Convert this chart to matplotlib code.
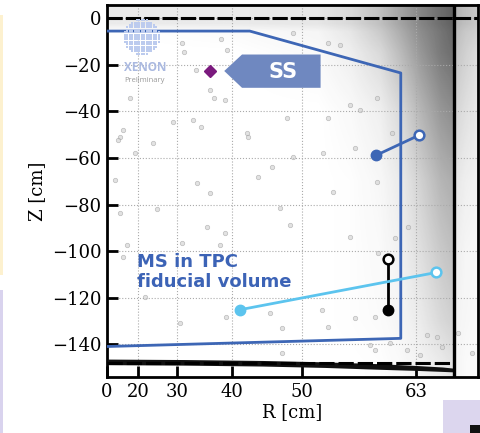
import numpy as np
import matplotlib
matplotlib.use("Agg")
import matplotlib.pyplot as plt
from matplotlib.colors import LinearSegmentedColormap
from matplotlib.image import NonUniformImage
from matplotlib.patches import Polygon, Rectangle

# --- data (R in cm, Z in cm) ---
r_ticks = [0, 20, 30, 40, 50, 63]
z_ticks = [0, -20, -40, -60, -80, -100, -120, -140]
r_wall = 66.7
z_gate = 0.0
z_cathode = -148.0

# fiducial volume outline
fv_r = [0, 42.8, 61.4, 61.4, 0]
fv_z = [-5.5, -5.5, -23.5, -137.5, -141.0]

# single scatter
ss_r = [36.3]
ss_z = [-22.7]

# multi scatter pairs: filled end, open end
ms_blue_r = [58.8, 63.3]
ms_blue_z = [-58.8, -50.2]
ms_black_r = [60.1, 60.1]
ms_black_z = [-125.2, -103.2]
ms_light_r = [41.3, 65.0]
ms_light_z = [-125.2, -109.2]

# sparse background events
bg_r = [31.0, 31.4, 38.2, 39.2, 33.8, 36.3, 37.1, 38.9, 17.2, 33.2, 34.7, 29.1,
        14.3, 12.9, 11.9, 24.3, 18.9, 10.1, 34.0, 36.3, 25.3, 12.9, 48.8, 53.2,
        54.7, 58.9, 55.8, 57.0, 53.2, 48.1, 42.4, 42.5, 56.4, 52.6, 44.0, 46.0,
        48.8, 53.9, 58.9, 47.1, 60.5, 16.0, 14.3, 31.0, 35.8, 38.9, 38.1, 22.1,
        30.6, 39.1, 48.5, 55.8, 60.8, 59.0, 62.1, 52.5, 47.4, 53.2, 58.6, 56.4,
        45.7, 58.1, 58.6, 60.3, 62.0, 64.1, 65.1, 65.6, 63.4, 68.4, 67.1, 47.4]
bg_z = [-10.6, -14.5, -8.9, -13.6, -22.2, -30.8, -34.3, -35.1, -34.3, -43.7, -46.7, -44.6,
        -48.0, -51.0, -52.3, -53.6, -57.9, -69.5, -70.8, -75.1, -82.0, -83.7, -6.3, -10.6,
        -11.5, -34.3, -37.3, -39.4, -42.9, -42.9, -49.3, -51.0, -55.8, -57.9, -68.2, -63.9,
        -59.6, -74.7, -70.4, -81.6, -49.3, -97.5, -102.6, -96.6, -89.7, -92.3, -97.5, -119.8,
        -131.0, -128.4, -88.9, -94.0, -94.5, -100.9, -89.7, -125.4, -133.1, -132.7, -128.4, -128.8,
        -126.7, -140.5, -142.6, -139.6, -142.6, -136.2, -137.0, -141.3, -144.8, -143.9, -135.3, -143.9]

# event density near the wall / gate (estimated shade)
haze_r = [0, 40, 52, 55.8, 59.2, 61.3, 63.4, 65.4, 66.6, 66.8, 67.8, 69.0]
haze_z = [0, -2.5, -6, -15, -40, -70, -100, -130, -148]
haze = [
    [0.10, 0.10, 0.12, 0.18, 0.30, 0.42, 0.55, 0.65, 0.70, 0.35, 0.30, 0.25],
    [0.10, 0.10, 0.12, 0.18, 0.30, 0.42, 0.55, 0.65, 0.70, 0.35, 0.30, 0.25],
    [0.00, 0.02, 0.05, 0.12, 0.25, 0.38, 0.52, 0.62, 0.68, 0.32, 0.26, 0.22],
    [0.00, 0.00, 0.03, 0.08, 0.18, 0.32, 0.48, 0.60, 0.65, 0.28, 0.22, 0.16],
    [0.00, 0.00, 0.00, 0.03, 0.08, 0.18, 0.34, 0.48, 0.52, 0.20, 0.15, 0.10],
    [0.00, 0.00, 0.00, 0.01, 0.04, 0.10, 0.22, 0.34, 0.38, 0.12, 0.08, 0.06],
    [0.00, 0.00, 0.00, 0.01, 0.03, 0.07, 0.16, 0.26, 0.30, 0.08, 0.05, 0.04],
    [0.00, 0.00, 0.00, 0.01, 0.02, 0.05, 0.10, 0.18, 0.22, 0.06, 0.04, 0.03],
    [0.00, 0.00, 0.00, 0.00, 0.01, 0.03, 0.06, 0.10, 0.14, 0.05, 0.03, 0.02],
]

# dense events on the cathode
band_r = [0, 31.6, 44.7, 52.9, 59.2, 63.2, 65.6, 66.7]
band_hi = [-146.4, -146.6, -147.0, -147.6, -148.4, -149.2, -149.8, -150.3]
band_lo = [-148.8, -149.0, -149.4, -150.0, -150.8, -151.3, -151.7, -151.9]

# --- figure ---
W, H = 481, 433
rect = [107 / W, 1 - 377 / H, 371 / W, 372 / H]
r_max = 69.0
z_lim = (-154.1, 5.7)
fig = plt.figure(figsize=(W / 100, H / 100), dpi=100)

# background layer: shade in R^2 (linear) coordinates
bg_ax = fig.add_axes(rect, zorder=0)
bg_ax.set_xlim(0, r_max ** 2)
bg_ax.set_ylim(*z_lim)
bg_ax.axis("off")
cmap = LinearSegmentedColormap.from_list("haze", [(0.2, 0.2, 0.2, 0.0), (0.08, 0.08, 0.08, 1.0)])
im = NonUniformImage(bg_ax, interpolation="bilinear", cmap=cmap,
                     extent=(0, r_max ** 2, z_lim[0], z_lim[1]))
im.set_data(np.array(haze_r) ** 2, np.array(haze_z[::-1]), np.array(haze[::-1]))
im.set_clim(0, 1)
bg_ax.add_image(im)

ax = fig.add_axes(rect, zorder=1)
ax.set_facecolor("none")

# x axis is linear in R^2
ax.set_xscale("function", functions=(lambda r: np.sign(r) * r ** 2,
                                     lambda r2: np.sqrt(np.abs(r2))))
ax.set_xlim(0, r_max)
ax.set_ylim(*z_lim)

ax.plot(bg_r, bg_z, "o", ms=3.2, mfc="#d0d0d0", mec="#9a9a9a", mew=0.5, alpha=0.6,
        ls="none", zorder=2)

ax.fill_between(band_r, band_lo, band_hi, color="#111111", lw=0, zorder=3)

ax.axhline(z_gate, color="black", lw=2.2, ls=(0, (5, 1)), zorder=4)
ax.plot([0, r_wall], [z_cathode, z_cathode], color="black", lw=2.2, ls=(0, (5, 1.3)), zorder=4)
ax.axvline(r_wall, color="black", lw=2.4, zorder=4)

ax.plot(fv_r, fv_z, color="#3d66b5", lw=2, zorder=5)

ax.plot(ss_r, ss_z, "D", color="#7b1a7e", ms=6, zorder=6)

for rr, zz, c in [(ms_blue_r, ms_blue_z, "#3d66b5"),
                  (ms_black_r, ms_black_z, "black"),
                  (ms_light_r, ms_light_z, "#5cc4ee")]:
    ax.plot(rr, zz, color=c, lw=2, zorder=6)
    ax.plot(rr[0], zz[0], "o", color=c, ms=7.5, zorder=7)
    ax.plot(rr[1], zz[1], "o", mfc="white", mec=c, mew=1.8, ms=7, zorder=7)

# SS tag
tag = Polygon([(0.316, 0.8226), (0.364, 0.8669), (0.5757, 0.8669),
               (0.5757, 0.7774), (0.364, 0.7774)], closed=True,
              transform=ax.transAxes, fc="#6f88c0", ec="none", zorder=8)
ax.add_patch(tag)
ax.text(0.474, 0.821, "SS", transform=ax.transAxes, color="white", fontsize=15,
        fontweight="bold", family="DejaVu Sans", ha="center", va="center", zorder=9)

ax.text(0.082, 0.282, "MS in TPC\nfiducial volume", transform=ax.transAxes,
        color="#3c63b6", fontsize=13, fontweight="bold", family="DejaVu Sans",
        ha="left", va="center", linespacing=1.15, zorder=9)

# XENON logo: dotted disc
gx, gy = np.meshgrid(np.arange(-7, 8), np.arange(-7, 8))
keep = gx ** 2 + gy ** 2 <= 7.3 ** 2
ax.scatter(0.094 + gx[keep] * 2.4 / 371, 0.914 + gy[keep] * 2.4 / 372, s=0.9, marker="s",
           color="#bccbee", lw=0, transform=ax.transAxes, zorder=8)
ax.text(0.102, 0.833, "XENON", transform=ax.transAxes, color="#aab9e0", fontsize=8.5,
        fontweight="bold", family="Open Sans", ha="center", va="center", zorder=9)
ax.text(0.102, 0.798, "Preliminary", transform=ax.transAxes, color="#9a9a9a", fontsize=5.5,
        family="Open Sans", ha="center", va="center", zorder=9)

# axes styling
ax.set_xticks(r_ticks)
ax.set_xticklabels([str(t) for t in r_ticks])
ax.set_yticks(z_ticks)
ax.grid(True, color="#aaaaaa", ls=":", lw=0.8)
ax.tick_params(direction="in", length=8, width=2, labelsize=13, pad=4)
for lab in ax.get_xticklabels() + ax.get_yticklabels():
    lab.set_family("DejaVu Serif")
for sp in ax.spines.values():
    sp.set_linewidth(2)
ax.set_xlabel("R [cm]", family="DejaVu Serif", fontsize=13, labelpad=2)
ax.set_ylabel("Z [cm]", family="DejaVu Serif", fontsize=13, labelpad=4)

# slide leftovers around the plot
fig.patches.append(Rectangle((0, 1 - 275 / H), 2.5 / W, 260 / H, transform=fig.transFigure,
                             fc="#fdf1cf", ec="none"))
fig.patches.append(Rectangle((0, 0), 2.5 / W, 143 / H, transform=fig.transFigure,
                             fc="#d9d3ee", ec="none"))
fig.patches.append(Rectangle((443 / W, 0), 38 / W, 33 / H, transform=fig.transFigure,
                             fc="#dcd6ee", ec="none"))
fig.patches.append(Rectangle((470 / W, 0), 11 / W, 8 / H, transform=fig.transFigure,
                             fc="#111111", ec="none"))

fig.savefig("out.png", dpi=100)
